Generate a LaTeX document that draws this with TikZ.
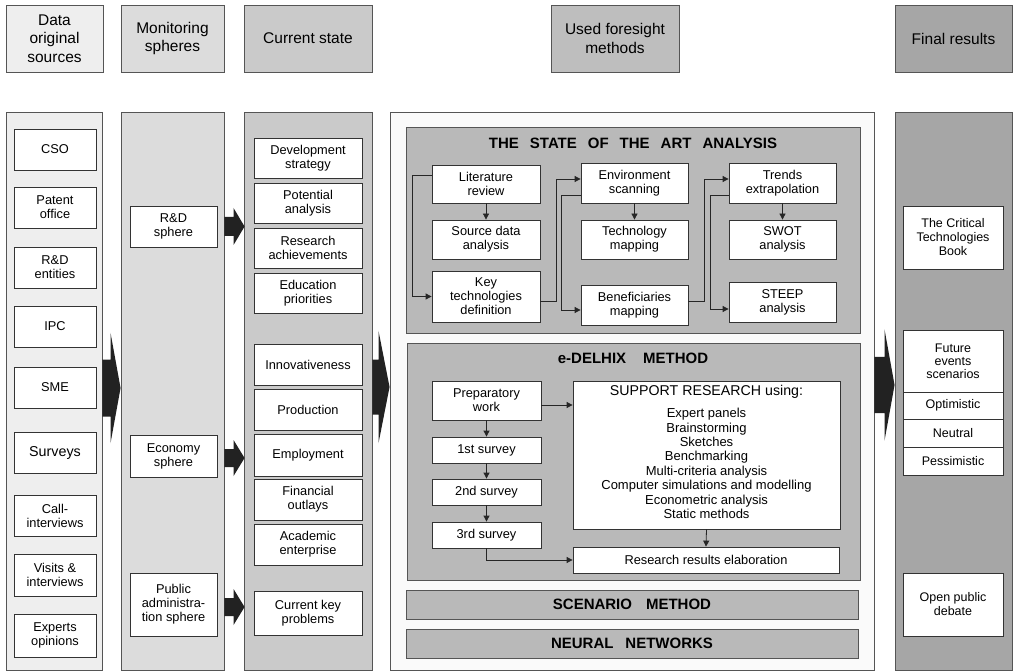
\documentclass[tikz,border=0pt]{standalone}
\usepackage{fontspec}
\setmainfont{Liberation Sans}
\usetikzlibrary{calc,arrows.meta}
\definecolor{cA}{HTML}{EEEEEE}
\definecolor{cB}{HTML}{DCDCDC}
\definecolor{cC}{HTML}{CACACA}
\definecolor{cD}{HTML}{FAFAFA}
\definecolor{cE}{HTML}{A6A6A6}
\definecolor{cH}{HTML}{BEBEBE}
\definecolor{cS}{HTML}{B9B9B9}
\definecolor{cArr}{HTML}{222222}
\definecolor{cLine}{HTML}{555555}
\newcommand\fs[2]{\fontsize{#1}{#2}\selectfont}
\newcommand\bx[6]{\node[#1, minimum width={#4-#2}, minimum height={#5-#3}] (#6) at ({(#2+#4)/2},{(#3+#5)/2})}
\newcommand\barrow[5]{\fill[cArr] ($(#1)+(0,-#3)$) -- ($(#2)+(-#5,-#3)$) -- ($(#2)+(-#5,-#4)$) -- (#2) -- ($(#2)+(-#5,#4)$) -- ($(#2)+(-#5,#3)$) -- ($(#1)+(0,#3)$) -- cycle;}
\begin{document}
\begin{tikzpicture}[x=1pt,y=-1pt,
  colbox/.style={draw=cLine, line width=0.9pt, inner sep=0pt},
  hd/.style={draw=cLine, line width=0.9pt, inner sep=1pt, align=center, font=\fs{15.5}{18.3}},
  wb/.style={draw=black!80, fill=white, line width=0.8pt, inner sep=1pt, align=center, font=\fs{12.8}{14}},
  sec/.style={draw=cLine, fill=cS, line width=0.9pt, inner sep=0pt},
  ttl/.style={font=\bfseries\fs{15}{18}, inner sep=0pt},
  ar/.style={draw=black!85, line width=0.8pt, -{Triangle[length=6pt,width=6pt]}}
]
\useasboundingbox (0,0) rectangle (1013,671);
\fill[white] (0,0) rectangle (1013,671);

% headers
\bx{hd,fill=cA}{6}{5}{103}{72}{h1} {Data\\original\\sources};
\bx{hd,fill=cB}{121}{5}{224}{72}{h2} {Monitoring\\spheres};
\bx{hd,fill=cC}{244}{5}{372}{72}{h3} {Current state};
\bx{hd,fill=cH}{551}{5}{679}{72}{h4} {Used foresight\\methods};
\bx{hd,fill=cE}{895}{5}{1012}{72}{h5} {Final results};

% columns
\bx{colbox,fill=cA}{6}{112}{102}{670}{c1} {};
\bx{colbox,fill=cB}{121}{112}{224}{670}{c2} {};
\bx{colbox,fill=cC}{244}{112}{372}{670}{c3} {};
\bx{colbox,fill=cD}{390}{112}{874}{670}{c4} {};
\bx{colbox,fill=cE}{895}{112}{1012}{670}{c5} {};

% column 1
\bx{wb}{14}{129}{96}{170}{cso} {CSO};
\bx{wb}{14}{187}{96}{228}{pat} {Patent\\office};
\bx{wb}{14}{247}{96}{288}{rde} {R\&D\\entities};
\bx{wb}{14}{306}{96}{347}{ipc} {IPC};
\bx{wb}{14}{367}{96}{408}{sme} {SME};
\bx{wb,font=\fs{14.3}{16}}{14}{432}{96}{473}{sur} {Surveys};
\bx{wb}{14}{495}{96}{536}{cal} {Call-\\interviews};
\bx{wb}{14}{554}{96}{596}{vis} {Visits \&\\interviews};
\bx{wb}{14}{614}{96}{657}{exp} {Experts\\opinions};

% column 2
\bx{wb}{130}{206}{217}{247}{rds} {R\&D\\sphere};
\bx{wb}{130}{435}{217}{477}{eco} {Economy\\sphere};
\bx{wb}{130}{573}{217}{636}{pub} {Public\\administra-\\tion sphere};

% column 3
\bx{wb}{254}{138}{362}{178}{dev} {Development\\strategy};
\bx{wb}{254}{183}{362}{223}{pot} {Potential\\analysis};
\bx{wb}{254}{228}{362}{268}{rea} {Research\\achievements};
\bx{wb}{254}{273}{362}{313}{edu} {Education\\priorities};
\bx{wb}{254}{344}{362}{385}{inn} {Innovativeness};
\bx{wb}{254}{389}{362}{430}{pro} {Production};
\bx{wb}{254}{434}{362}{476}{emp} {Employment};
\bx{wb}{254}{479}{362}{520}{fin} {Financial\\outlays};
\bx{wb}{254}{524}{362}{565}{aca} {Academic\\enterprise};
\bx{wb}{254}{591}{362}{635}{ckp} {Current key\\problems};

% column 4 : state of the art
\bx{sec}{406}{127}{860}{333}{soa} {};
\node[ttl] (soat) at (633,143) {THE\hspace{11pt}STATE\hspace{11pt}OF\hspace{11pt}THE\hspace{11pt}ART\hspace{11pt}ANALYSIS};
\bx{wb}{432}{165}{540}{203}{lit} {Literature\\review};
\bx{wb}{432}{220}{540}{259}{src} {Source data\\analysis};
\bx{wb}{432}{271}{540}{322}{key} {Key\\technologies\\definition};
\bx{wb}{581}{163}{688}{203}{env} {Environment\\scanning};
\bx{wb}{581}{220}{688}{259}{tec} {Technology\\mapping};
\bx{wb}{581}{285}{688}{325}{ben} {Beneficiaries\\mapping};
\bx{wb}{729}{163}{836}{203}{trd} {Trends\\extrapolation};
\bx{wb}{729}{220}{836}{259}{swt} {SWOT\\analysis};
\bx{wb}{729}{282}{836}{322}{stp} {STEEP\\analysis};

\draw[ar] (lit.south) -- (src.north);
\draw[ar] ([yshift=9pt]lit.west) -- ++(-19,0) |- (key.west);
\draw[ar] ([yshift=-4.5pt]key.east) -- ++(16,0) |- ([yshift=4pt]env.west);
\draw[ar] ([yshift=-12pt]env.west) -- ++(-19,0) |- ([yshift=-5pt]ben.west);
\draw[ar] (env.south) -- (tec.north);
\draw[ar] ([yshift=4pt]ben.east) -- ++(16,0) |- ([yshift=4pt]trd.west);
\draw[ar] ([yshift=-12pt]trd.west) -- ++(-18,0) |- ([yshift=-7pt]stp.west);
\draw[ar] (trd.south) -- (swt.north);

% e-DELHIX
\bx{sec}{407}{343}{860}{580}{del} {};
\node[ttl] (delt) at (633,358) {e-DELHIX\hspace{17pt}METHOD};
\bx{wb}{432}{381}{541}{420}{prep} {Preparatory\\work};
\bx{wb}{432}{437}{541}{463}{sv1} {1st survey};
\bx{wb}{432}{479}{541}{505}{sv2} {2nd survey};
\bx{wb}{432}{522}{541}{548}{sv3} {3rd survey};
\bx{wb,align=center}{573}{381}{840}{529}{sup} {};
\node[font=\fs{14.2}{16}, inner sep=0pt] (supt) at (706.5,392) {SUPPORT RESEARCH using:};
\node[font=\fs{13}{14.4}, align=center, inner sep=0pt, anchor=north] (supl) at (706.5,408) {Expert panels\\Brainstorming\\Sketches\\Benchmarking\\Multi-criteria analysis\\Computer simulations and modelling\\Econometric analysis\\Static methods};
\bx{wb}{573}{547}{839}{573}{res} {Research results elaboration};

\draw[ar] (prep.south) -- (sv1.north);
\draw[ar] (sv1.south) -- (sv2.north);
\draw[ar] (sv2.south) -- (sv3.north);
\draw[ar] ([yshift=-4.5pt]prep.east) -- ([yshift=-4.5pt]prep.east -| sup.west);
\draw[ar] (sup.south) -- (res.north);
\draw[ar] (sv3.south) |- (res.west);

% scenario / neural
\bx{sec}{406}{590}{858}{619}{scn} {};
\node[ttl] (scnt) at (632,604.5) {SCENARIO\hspace{14pt}METHOD};
\bx{sec}{406}{629}{858}{658}{nn} {};
\node[ttl] (nnt) at (632,643.5) {NEURAL\hspace{12pt}NETWORKS};

% column 5
\bx{wb,font=\fs{12.5}{14}}{903}{206}{1003}{269}{ctb} {The Critical\\Technologies\\Book};
\bx{wb,font=\fs{12.5}{13}}{903}{330}{1003}{392}{fut} {Future\\events\\scenarios};
\bx{wb,font=\fs{12.5}{14}}{903}{392}{1003}{419}{opt} {Optimistic};
\bx{wb,font=\fs{12.5}{14}}{903}{419}{1003}{447}{neu} {Neutral};
\bx{wb,font=\fs{12.5}{14}}{903}{447}{1003}{475}{pes} {Pessimistic};
\bx{wb,font=\fs{12.5}{14}}{903}{573}{1003}{636}{opd} {Open public\\debate};

% block arrows
\coordinate (a1s) at (c1.east |- 0,388);
\coordinate (a1e) at (c2.west |- 0,388);
\barrow{a1s}{a1e}{28.5}{55}{10}
\coordinate (a2s) at (c3.east |- 0,387);
\coordinate (a2e) at (c4.west |- 0,387);
\barrow{a2s}{a2e}{27.5}{56}{11}
\coordinate (a3s) at (c4.east |- 0,385);
\coordinate (a3e) at (c5.west |- 0,385);
\barrow{a3s}{a3e}{28}{55.5}{10}
\coordinate (b1s) at (c2.east |- rds.center);
\coordinate (b1e) at ([xshift=1pt]c3.west |- rds.center);
\barrow{b1s}{b1e}{9.5}{18.5}{11}
\coordinate (b2s) at (c2.east |- 0,458);
\coordinate (b2e) at ([xshift=1pt]c3.west |- 0,458);
\barrow{b2s}{b2e}{9}{18}{11}
\coordinate (b3s) at (c2.east |- 0,607);
\coordinate (b3e) at ([xshift=1pt]c3.west |- 0,607);
\barrow{b3s}{b3e}{9}{18}{11}
\end{tikzpicture}
\end{document}
